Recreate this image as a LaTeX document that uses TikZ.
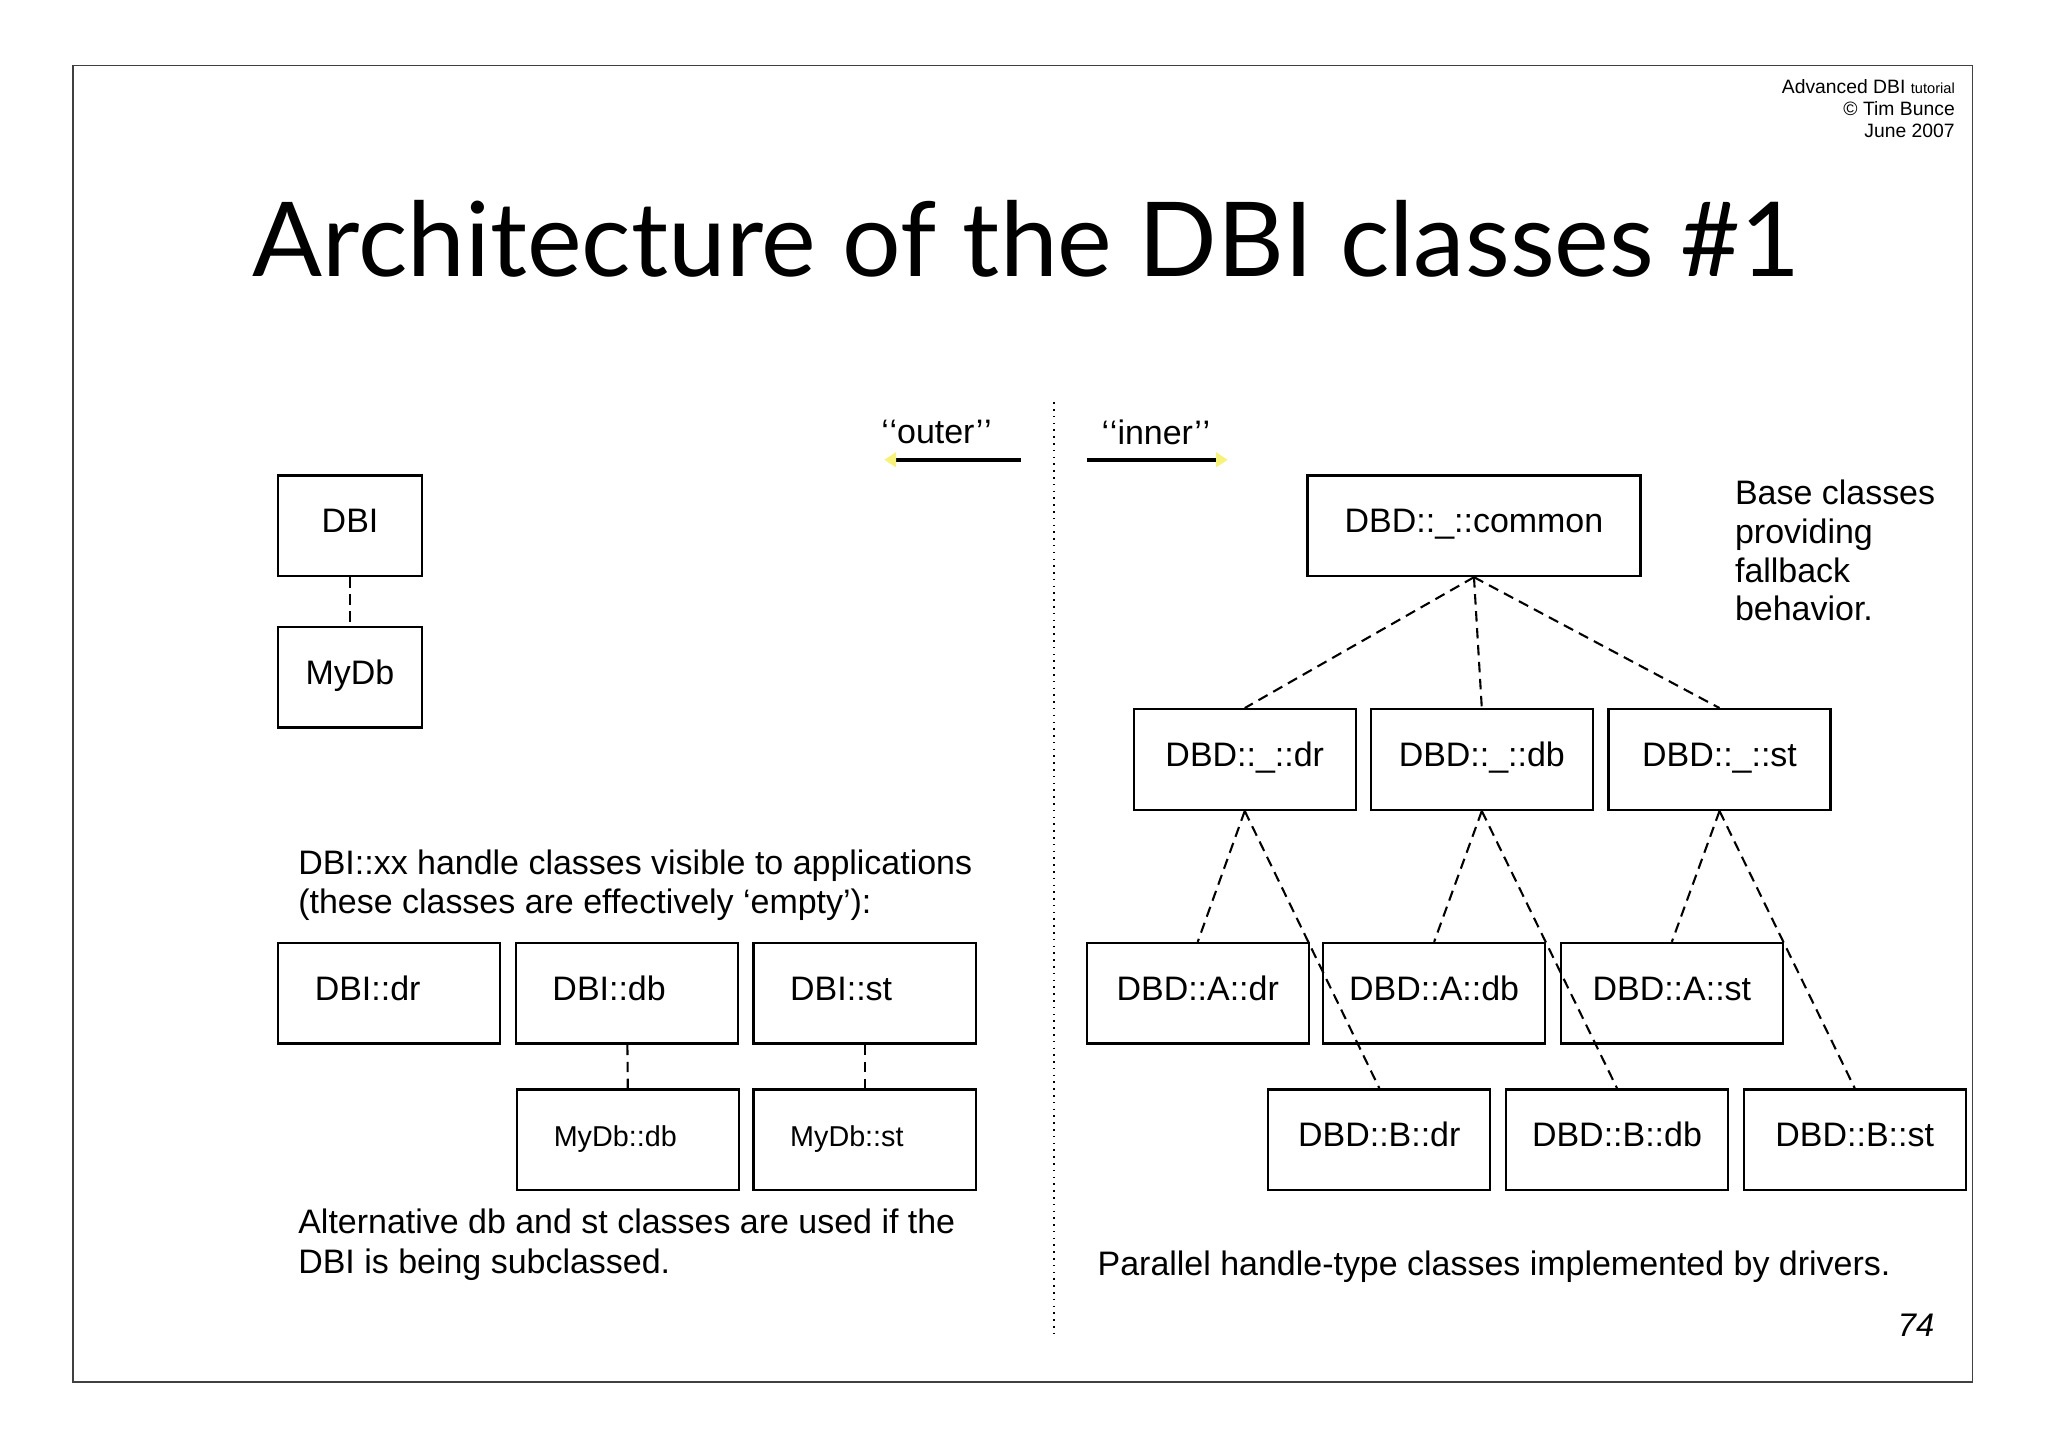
\documentclass[tikz,border=0pt]{standalone}
\usepackage{fontspec}
\setmainfont{Liberation Sans}
\newfontfamily\titlefont{Lato}
\usetikzlibrary{arrows.meta}
\definecolor{tipYellow}{HTML}{F6F27A}

\begin{document}
\begin{tikzpicture}[x=0.5pt, y=-0.5pt,
  cls/.style={draw, line width=0.9pt, minimum width=85pt, minimum height=38.5pt,
    text height=10pt, text depth=4.5pt, inner sep=0pt, font=\fontsize{13}{15}\selectfont},
  clsl/.style={cls, text width=57pt, inner xsep=14pt, align=left},
  small/.style={font=\fontsize{11}{13}\selectfont},
  dep/.style={dashed, dash pattern=on 4pt off 2.5pt, line width=0.8pt},
  body/.style={font=\fontsize{13}{15}\selectfont, inner sep=0pt, align=left},
  mark line/.style={line width=1.6pt}]
  \useasboundingbox (0,0) rectangle (1568,1109);
  \draw[line width=0.5pt, black!75] (56,50) rectangle (1510,1058);

  % header and title
  \node[anchor=east, align=right, inner sep=0pt, font=\fontsize{7.4}{8.5}\selectfont] (hdr) at (1497,83)
    {Advanced DBI {\fontsize{5.6}{8.5}\selectfont tutorial}\\© Tim Bunce\\June 2007};
  \node[anchor=base, inner sep=0pt, font=\titlefont\fontsize{39.6}{48}\selectfont] (title) at (786,212)
    {Architecture of the DBI classes \#1};

  % outer / inner split
  \draw[dotted, line width=0.6pt] (807,308) -- (807,1025);
  \node[body] (outer) at (717,331) {‘\kern0.3pt‘outer’\kern0.3pt’};
  \node[body] (inner) at (885,331) {‘\kern0.3pt‘inner’\kern0.3pt’};
  \coordinate (outA) at (677,352);
  \coordinate (outB) at (782,352);
  \coordinate (inA) at (832,352);
  \coordinate (inB) at (940,352);
  \draw[mark line, {Triangle[length=4.5pt,width=5.5pt,color=tipYellow]}-] (outA) -- (outB);
  \draw[mark line, -{Triangle[length=4.5pt,width=5.5pt,color=tipYellow]}] (inA) -- (inB);

  % left: DBI side
  \node[cls, minimum width=55pt] (dbi) at (268,402.5) {DBI};
  \node[cls, minimum width=55pt] (mydb) at (268,518.5) {MyDb};
  \draw[dep] (dbi) -- (mydb);
  \node[body, anchor=west] (apps) at (228,678)
    {DBI::xx handle classes visible to applications\\(these classes are effectively ‘empty’):};
  \foreach \t/\x in {dr/298,db/480,st/662}
    \node[clsl] (dbi\t) at (\x,760.5) {DBI::\t};
  \foreach \t/\x in {db/481,st/662} {
    \node[clsl, small] (mydb\t) at (\x,872.5) {MyDb::\t};
    \draw[dep] (dbi\t) -- (mydb\t);
  }
  \node[body, anchor=west] (alt) at (228,953)
    {Alternative db and st classes are used if the\\DBI is being subclassed.};

  % right: DBD side
  \node[cls, minimum width=127.5pt] (common) at (1128.5,402.5) {DBD::\_::common};
  \node[body, anchor=west, font=\fontsize{13}{14.85}\selectfont] (base) at (1328,421.5)
    {Base classes\\providing\\fallback\\behavior.};
  \foreach \t/\x in {dr/953,db/1134.5,st/1316.5}
    \node[cls] (u\t) at (\x,581.5) {DBD::\_::\t};
  \foreach \t/\x in {dr/917,db/1098,st/1280}
    \node[cls] (a\t) at (\x,760.5) {DBD::A::\t};
  \foreach \t/\x in {dr/1056,db/1238,st/1420}
    \node[cls] (b\t) at (\x,872.5) {DBD::B::\t};
  \foreach \t in {dr,db,st} {
    \draw[dep] (common.south) -- (u\t.north);
    \draw[dep] (u\t.south) -- (a\t.north);
    \draw[dep] (u\t.south) -- (b\t.north);
  }
  \node[body, anchor=west] (par) at (840,970) {Parallel handle-type classes implemented by drivers.};
  \node[font=\itshape\fontsize{12.5}{15}\selectfont, inner sep=0pt] (page) at (1467,1015) {74};
\end{tikzpicture}
\end{document}
